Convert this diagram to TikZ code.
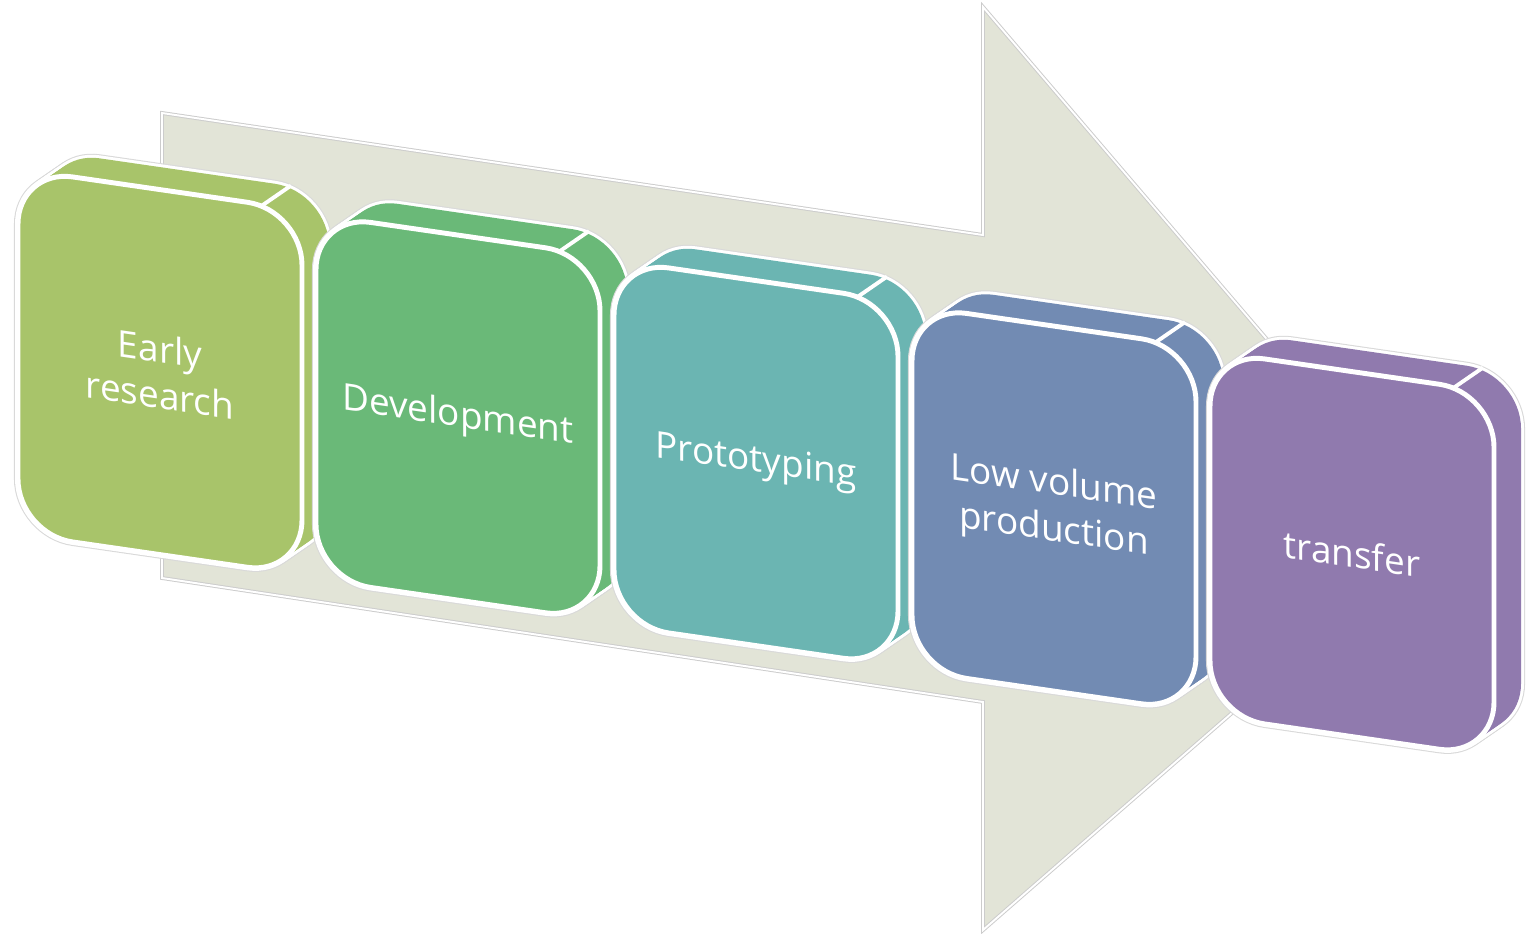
\documentclass[tikz,border=0pt]{standalone}
\usepackage{fontspec}
\setmainfont{Open Sans}

\definecolor{arrowfill}{HTML}{E2E4D7}
\definecolor{stageA}{HTML}{A8C46A}
\definecolor{stageB}{HTML}{6AB978}
\definecolor{stageC}{HTML}{6BB5B2}
\definecolor{stageD}{HTML}{728BB3}
\definecolor{stageE}{HTML}{907AAE}

\tikzset{
  face/.style={rounded corners=5.5mm},
  stage label/.style={text=white, align=center, transform shape,
    font=\fontsize{10.5}{13.2}\selectfont},
}

\begin{document}
\begin{tikzpicture}[x=0.01cm, y=-0.01cm]
  \useasboundingbox (0,0) rectangle (1528,933);

  % big arrow behind the stages
  \coordinate (tailtop) at (162,113);
  \coordinate (notchtop) at (983,235);
  \coordinate (headtop) at (983,7);
  \coordinate (tip) at (1435,536);
  \coordinate (headbot) at (983,930);
  \coordinate (notchbot) at (983,702);
  \coordinate (tailbot) at (162,578);
  \filldraw[fill=arrowfill, draw=gray!40, line width=1.1pt]
    (tailtop) -- (notchtop) -- (headtop) -- (tip) -- (headbot)
    -- (notchbot) -- (tailbot) -- cycle;
  \draw[white, line width=0.55pt]
    (tailtop) -- (notchtop) -- (headtop) -- (tip) -- (headbot)
    -- (notchbot) -- (tailbot) -- cycle;

  % the five stages, each a slanted block with some depth
  \foreach \name/\col/\lbl [count=\i from 0] in {
      early/stageA/{Early\\research},
      devel/stageB/Development,
      proto/stageC/Prototyping,
      lowvol/stageD/{Low volume\\production},
      transfer/stageE/transfer} {
    \begin{scope}[shift={(18+298*\i,169+45.5*\i)}, yslant=-0.145]
      % outline of the extruded body
      \foreach \t in {0,0.1,...,1}
        \draw[gray!30, line width=2.3pt, face] (30*\t,-25*\t) rectangle ++(284,365);
      \foreach \t in {0,0.1,...,1}
        \draw[white, line width=1.7pt, face] (30*\t,-25*\t) rectangle ++(284,365);
      \foreach \t in {0,0.1,...,1}
        \fill[\col, face] (30*\t,-25*\t) rectangle ++(284,365);
      % front face
      \filldraw[fill=\col, draw=white, line width=1.4pt, face] (0,0) rectangle ++(284,365);
      \draw[white, line width=1.1pt] (243,2) -- ++(30,-25);
      \node[stage label] (\name) at (142,182) {\lbl};
    \end{scope}
  }
\end{tikzpicture}
\end{document}
